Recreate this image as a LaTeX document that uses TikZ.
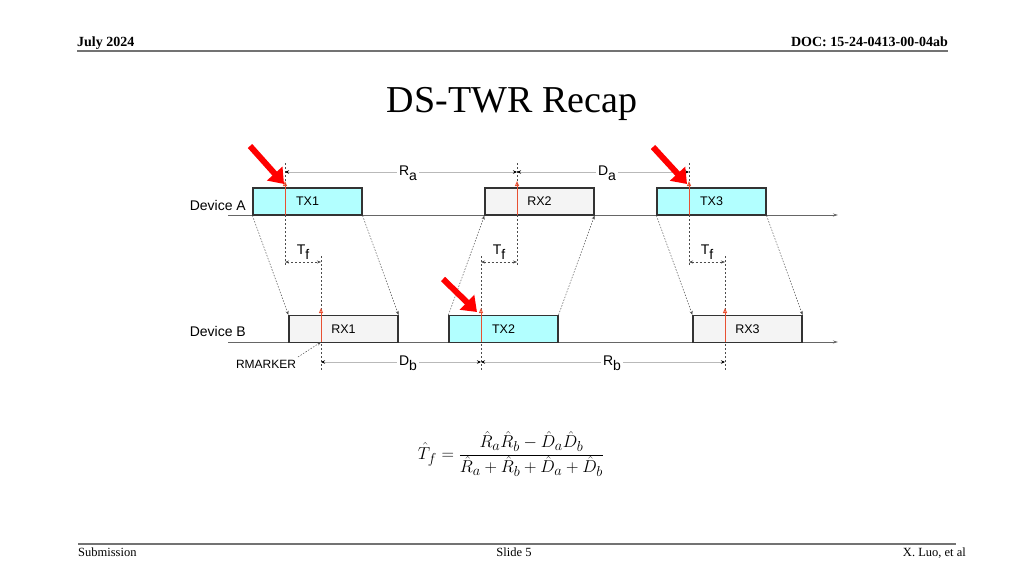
\documentclass[tikz,border=0pt]{standalone}
\usepackage{fontspec}
\setmainfont{Liberation Serif}
\setsansfont{Liberation Sans}
\usetikzlibrary{arrows.meta}
\definecolor{cyanfill}{RGB}{178,255,255}
\definecolor{grayfill}{RGB}{244,244,244}
\definecolor{bigred}{RGB}{255,0,0}
\definecolor{thinred}{RGB}{232,80,50}
\definecolor{dimgray}{RGB}{185,185,185}
\definecolor{axisgray}{RGB}{140,140,140}
\newcommand\sublbl[2]{#1\raisebox{-4.5pt}{#2}}
\tikzset{
  pkt/.style={draw=black!80, line width=1.1pt, minimum width=109pt, minimum height=27pt, inner sep=0pt, font=\sffamily\fontsize{12.5}{14}\selectfont},
  txbox/.style={pkt, fill=cyanfill},
  rxbox/.style={pkt, fill=grayfill},
  axis/.style={draw=axisgray, line width=0.9pt, -{Stealth[length=5pt,width=3pt]}, draw=black!60},
  marker/.style={draw=thinred, line width=1pt, -{Triangle[open,length=5pt,width=4pt]}},
  vdash/.style={draw=black!70, line width=0.5pt, dash pattern=on 2pt off 2pt},
  slant/.style={draw=black!70, line width=0.5pt, dash pattern=on 1.5pt off 1.5pt, -{Stealth[length=4pt,width=3pt]}},
  dimline/.style={draw=dimgray, line width=1pt, {Stealth[length=4pt,width=3.5pt,color=black]}-{Stealth[length=4pt,width=3.5pt,color=black]}},
  tfline/.style={draw=black!70, line width=0.5pt, dash pattern=on 2pt off 2pt, {Stealth[length=4pt,width=3pt]}-{Stealth[length=4pt,width=3pt]}},
  bigarrow/.style={draw=bigred, line width=6pt, -{Triangle[length=14pt,width=20pt]}},
  dimlbl/.style={fill=white, inner sep=2pt, font=\sffamily\fontsize{14}{16}\selectfont},
  tflbl/.style={inner sep=0pt, font=\sffamily\fontsize{14}{16}\selectfont},
  devlbl/.style={anchor=east, inner sep=0pt, font=\sffamily\fontsize{14}{16}\selectfont},
  hdr/.style={inner sep=0pt, font=\bfseries\fontsize{14}{16}\selectfont},
  ftr/.style={inner sep=0pt, font=\fontsize{12.5}{14}\selectfont},
}
\begin{document}
\begin{tikzpicture}[x=1pt,y=-1pt]
\useasboundingbox (0,0) rectangle (1024,576);
% header / footer
\node[hdr, anchor=base west] (date) at (77,46) {July 2024};
\node[hdr, anchor=base east] (doc) at (948,46) {DOC: 15-24-0413-00-04ab};
\coordinate (hl) at (77,51); \coordinate (hr) at (948,51);
\draw[draw=black!55, line width=2pt] (hl) -- (hr);
\coordinate (fl) at (78,544); \coordinate (fr) at (956,544);
\draw[draw=black!55, line width=2pt] (fl) -- (fr);
\node[ftr, anchor=base west] (sub) at (78,556) {Submission};
\node[ftr, anchor=base] (slide) at (514,556) {Slide 5};
\node[ftr, anchor=base east] (auth) at (966,556) {X. Luo, et al};
% title
\node[inner sep=0pt, font=\fontsize{38}{44}\selectfont] (title) at (512,104) {DS-TWR Recap};
% axes
\coordinate (a0) at (228,215); \coordinate (a1) at (838,215);
\coordinate (b0) at (228,342); \coordinate (b1) at (838,342);
\draw[axis] (a0) -- (a1);
\draw[axis] (b0) -- (b1);
\node[devlbl] (devA) at (246,205) {Device A};
\node[devlbl] (devB) at (246,331) {Device B};
% boxes
\node[txbox] (tx1) at (307.5,201.5) {TX1};
\node[rxbox] (rx2) at (539.5,201.5) {RX2};
\node[txbox] (tx3) at (711.5,201.5) {TX3};
\node[rxbox] (rx1) at (343.5,329) {RX1};
\node[txbox] (tx2) at (503.5,329) {TX2};
\node[rxbox] (rx3) at (747.5,329) {RX3};
% slanted propagation lines
\draw[slant] (tx1.south west) -- (rx1.north west);
\draw[slant] (tx1.south east) -- (rx1.north east);
\draw[slant] (tx2.north west) -- (rx2.south west);
\draw[slant] (tx2.north east) -- (rx2.south east);
\draw[slant] (tx3.south west) -- (rx3.north west);
\draw[slant] (tx3.south east) -- (rx3.north east);
% marker coordinates
\foreach \n/\x/\y in {A1/285/215, A2/517/215, A3/689/215, B1/321/342, B2/481/342, B3/725/342}{
  \coordinate (m\n) at (\x,\y);
}
\foreach \n/\x in {1/285, 2/517, 3/689}{
  \coordinate (ta\n) at (\x,163); \coordinate (ba\n) at (\x,265);
  \coordinate (ua\n) at (\x,181);
}
\foreach \n/\x in {1/321, 2/481, 3/725}{
  \coordinate (tb\n) at (\x,256); \coordinate (bb\n) at (\x,370);
  \coordinate (ub\n) at (\x,308);
}
\foreach \n in {1,2,3}{
  \draw[vdash] (ta\n) -- (ba\n);
  \draw[vdash] (tb\n) -- (bb\n);
  \draw[marker] (mA\n) -- (ua\n);
  \draw[marker] (mB\n) -- (ub\n);
}
% Tf dimensions
\foreach \n/\xa/\xb in {1/285/321, 2/481/517, 3/689/725}{
  \coordinate (tfl\n) at (\xa,262); \coordinate (tfr\n) at (\xb,262);
  \draw[tfline] (tfl\n) -- (tfr\n);
}
\node[tflbl] (tf1) at (303,252) {\sublbl{T}{f}};
\node[tflbl] (tf2) at (499,252) {\sublbl{T}{f}};
\node[tflbl] (tf3) at (707,252) {\sublbl{T}{f}};
% Ra, Da, Db, Rb
\coordinate (ra0) at (285,172); \coordinate (ra1) at (517,172); \coordinate (da1) at (689,172);
\draw[dimline] (ra0) -- (ra1);
\draw[dimline] (ra1) -- (da1);
\node[dimlbl] (Ra) at (408,173) {\sublbl{R}{a}};
\node[dimlbl] (Da) at (607,173) {\sublbl{D}{a}};
\coordinate (db0) at (321,362); \coordinate (db1) at (481,362); \coordinate (rb1) at (725,362);
\draw[dimline] (db0) -- (db1);
\draw[dimline] (db1) -- (rb1);
\node[dimlbl] (Db) at (408,363) {\sublbl{D}{b}};
\node[dimlbl] (Rb) at (612,363) {\sublbl{R}{b}};
% RMARKER
\node[inner sep=0pt, font=\sffamily\fontsize{12}{14}\selectfont] (rm) at (266,364) {RMARKER};
\coordinate (rmt) at (298,357);
\draw[slant] (rmt) -- (mB1);
% big red arrows
\coordinate (r1s) at (250,146); \coordinate (r1e) at (284,184);
\coordinate (r2s) at (653,147); \coordinate (r2e) at (687,184);
\coordinate (r3s) at (443,279); \coordinate (r3e) at (477,312);
\draw[bigarrow] (r1s) -- (r1e);
\draw[bigarrow] (r2s) -- (r2e);
\draw[bigarrow] (r3s) -- (r3e);
% formula
\node[inner sep=0pt, font=\fontsize{19}{23}\selectfont] (eq) at (511,454)
  {$\displaystyle \hat{T}_f=\frac{\hat{R}_a\hat{R}_b-\hat{D}_a\hat{D}_b}{\hat{R}_a+\hat{R}_b+\hat{D}_a+\hat{D}_b}$};
\end{tikzpicture}
\end{document}
